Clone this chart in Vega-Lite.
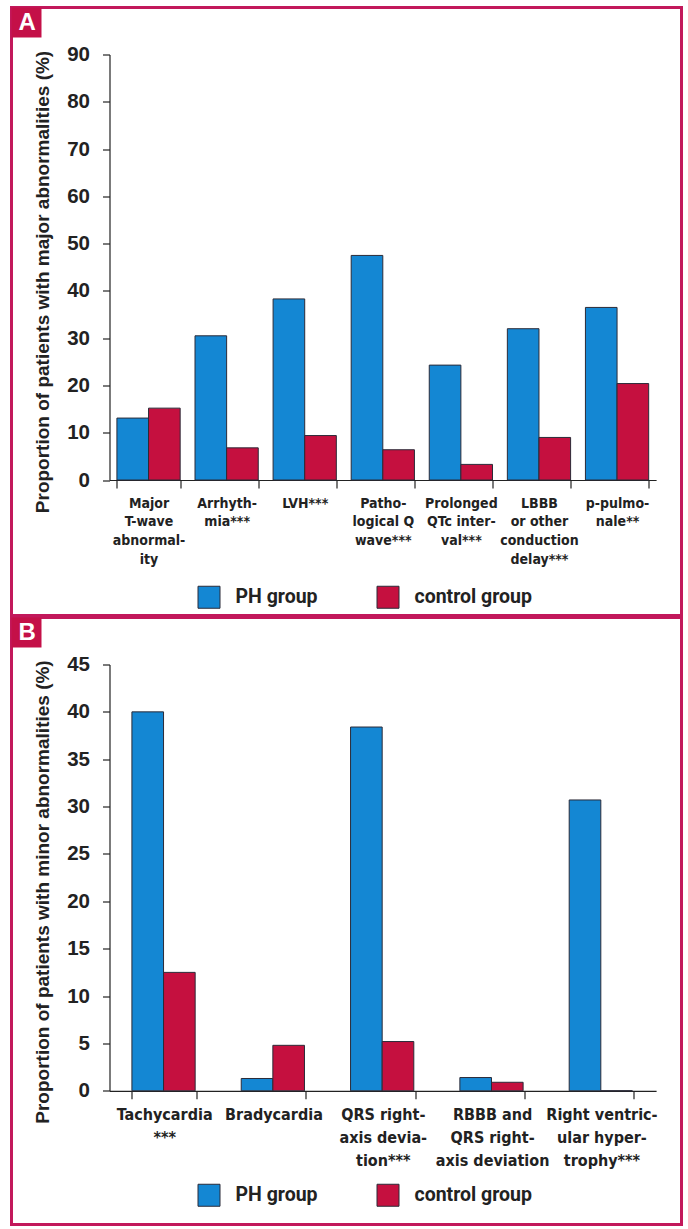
{
  "$schema": "https://vega.github.io/schema/vega-lite/v6.json",
  "padding": {"left": 9.5, "top": 5.5, "right": 0, "bottom": 0},
  "spacing": -3,
  "background": "white",
  "resolve": {
    "scale": {"color": "independent", "opacity": "independent"},
    "legend": {"color": "independent", "opacity": "independent"}
  },
  "config": {
    "view": {"stroke": "#c2185b", "strokeWidth": 3},
    "axis": {"domainColor": "#222", "tickColor": "#222", "labelColor": "#222", "titleColor": "#222", "grid": false, "domainWidth": 1.2, "tickWidth": 1.2}
  },
  "datasets": {
    "major": [
      {"abnormality": "Major|T-wave|abnormal-|ity", "group": "PH group", "percent": 13.1},
      {"abnormality": "Major|T-wave|abnormal-|ity", "group": "control group", "percent": 15.2},
      {"abnormality": "Arrhyth-|mia***", "group": "PH group", "percent": 30.5},
      {"abnormality": "Arrhyth-|mia***", "group": "control group", "percent": 6.8},
      {"abnormality": "LVH***", "group": "PH group", "percent": 38.3},
      {"abnormality": "LVH***", "group": "control group", "percent": 9.4},
      {"abnormality": "Patho-|logical Q|wave***", "group": "PH group", "percent": 47.5},
      {"abnormality": "Patho-|logical Q|wave***", "group": "control group", "percent": 6.4},
      {"abnormality": "Prolonged|QTc inter-|val***", "group": "PH group", "percent": 24.3},
      {"abnormality": "Prolonged|QTc inter-|val***", "group": "control group", "percent": 3.3},
      {"abnormality": "LBBB|or other|conduction|delay***", "group": "PH group", "percent": 32.0},
      {"abnormality": "LBBB|or other|conduction|delay***", "group": "control group", "percent": 9.0},
      {"abnormality": "p-pulmo-|nale**", "group": "PH group", "percent": 36.5},
      {"abnormality": "p-pulmo-|nale**", "group": "control group", "percent": 20.4}
    ],
    "minor": [
      {"abnormality": "Tachycardia|***", "group": "PH group", "percent": 40.0},
      {"abnormality": "Tachycardia|***", "group": "control group", "percent": 12.5},
      {"abnormality": "Bradycardia", "group": "PH group", "percent": 1.3},
      {"abnormality": "Bradycardia", "group": "control group", "percent": 4.8},
      {"abnormality": "QRS right-|axis devia-|tion***", "group": "PH group", "percent": 38.4},
      {"abnormality": "QRS right-|axis devia-|tion***", "group": "control group", "percent": 5.2},
      {"abnormality": "RBBB and|QRS right-|axis deviation", "group": "PH group", "percent": 1.4},
      {"abnormality": "RBBB and|QRS right-|axis deviation", "group": "control group", "percent": 0.9},
      {"abnormality": "Right ventric-|ular hyper-|trophy***", "group": "PH group", "percent": 30.7},
      {"abnormality": "Right ventric-|ular hyper-|trophy***", "group": "control group", "percent": 0}
    ]
  },
  "vconcat": [
    {
      "width": 670,
      "height": 608,
      "data": {"name": "major"},
      "mark": {"type": "bar", "stroke": "#2b2b38", "strokeWidth": 1},
      "encoding": {
        "x": {
          "field": "abnormality", "type": "nominal", "sort": null,
          "scale": {"range": [98, 644.6], "paddingInner": 0.19, "paddingOuter": 0.095},
          "axis": {"title": null, "orient": "bottom", "offset": -135.5, "labelExpr": "split(datum.label, '|')", "labelAngle": 0, "tickBand": "extent", "tickSize": 8, "labelPadding": 8, "labelFont": "DejaVu Sans Condensed, sans-serif", "labelFontSize": 14, "labelFontWeight": "bold", "labelLineHeight": 18.7, "labelLimit": 200, "labelBaseline": "top", "labelAlign": "center"}
        },
        "xOffset": {"field": "group", "type": "nominal", "sort": ["PH group", "control group"]},
        "y": {
          "field": "percent", "type": "quantitative",
          "scale": {"domain": [0, 90], "range": [472.5, 47], "nice": false, "zero": true},
          "axis": {"title": "Proportion of patients with major abnormalities (%)", "orient": "left", "offset": -98, "values": [0, 10, 20, 30, 40, 50, 60, 70, 80, 90], "tickSize": 7, "labelPadding": 13, "labelFont": "Liberation Sans", "labelFontSize": 20.5, "labelFontWeight": "bold", "titleFont": "Liberation Sans", "titleFontSize": 19, "titleFontWeight": "bold", "titleX": -61, "titleY": 274, "titleAngle": -90, "titleBaseline": "alphabetic", "titleAlign": "center"}
        },
        "color": {
          "field": "group", "type": "nominal",
          "scale": {"domain": ["PH group", "control group"], "range": ["#1487d3", "#c5103f"]},
          "legend": {"orient": "none", "legendX": 186, "legendY": 578, "direction": "horizontal", "title": null, "symbolType": "square", "symbolSize": 484, "symbolStrokeColor": "#2b2b38", "symbolStrokeWidth": 1, "labelFont": "Roboto", "labelFontSize": 19.5, "labelFontWeight": "bold", "labelOffset": 15, "columnPadding": 56, "padding": 0, "labelColor": "#222"}
        },
        "opacity": {
          "datum": "A", "type": "ordinal",
          "scale": {"range": [1, 1]},
          "legend": {"orient": "top-left", "offset": 0, "title": null, "padding": 0, "symbolType": "square", "symbolSize": 900, "symbolOffset": 0, "symbolStrokeWidth": 0, "symbolFillColor": "#c41048", "labelColor": "white", "labelFont": "Liberation Sans", "labelFontSize": 24, "labelFontWeight": "bold", "labelOffset": -23, "labelLimit": 40, "labelAlign": "left"}
        }
      }
    },
    {
      "width": 670,
      "height": 607,
      "data": {"name": "minor"},
      "mark": {"type": "bar", "stroke": "#2b2b38", "strokeWidth": 1},
      "encoding": {
        "x": {
          "field": "abnormality", "type": "nominal", "sort": null,
          "scale": {"range": [98, 644.6], "paddingInner": 0.41, "paddingOuter": 0.205},
          "axis": {"title": null, "orient": "bottom", "offset": -133.7, "labelExpr": "split(datum.label, '|')", "labelAngle": 0, "tickBand": "extent", "tickSize": 8, "labelPadding": 8, "labelFont": "DejaVu Sans Condensed, sans-serif", "labelFontSize": 16, "labelFontWeight": "bold", "labelLineHeight": 23, "labelLimit": 200, "labelBaseline": "top", "labelAlign": "center"}
        },
        "xOffset": {"field": "group", "type": "nominal", "sort": ["PH group", "control group"]},
        "y": {
          "field": "percent", "type": "quantitative",
          "scale": {"domain": [0, 45], "range": [473.3, 47], "nice": false, "zero": true},
          "axis": {"title": "Proportion of patients with minor abnormalities (%)", "orient": "left", "offset": -98, "values": [0, 5, 10, 15, 20, 25, 30, 35, 40, 45], "tickSize": 7, "labelPadding": 13, "labelFont": "Liberation Sans", "labelFontSize": 20.5, "labelFontWeight": "bold", "titleFont": "Liberation Sans", "titleFontSize": 19, "titleFontWeight": "bold", "titleX": -61, "titleY": 274, "titleAngle": -90, "titleBaseline": "alphabetic", "titleAlign": "center"}
        },
        "color": {
          "field": "group", "type": "nominal",
          "scale": {"domain": ["PH group", "control group"], "range": ["#1487d3", "#c5103f"]},
          "legend": {"orient": "none", "legendX": 186, "legendY": 566, "direction": "horizontal", "title": null, "symbolType": "square", "symbolSize": 484, "symbolStrokeColor": "#2b2b38", "symbolStrokeWidth": 1, "labelFont": "Roboto", "labelFontSize": 19.5, "labelFontWeight": "bold", "labelOffset": 15, "columnPadding": 56, "padding": 0, "labelColor": "#222"}
        },
        "opacity": {
          "datum": "B", "type": "ordinal",
          "scale": {"range": [1, 1]},
          "legend": {"orient": "top-left", "offset": 0, "title": null, "padding": 0, "symbolType": "square", "symbolSize": 900, "symbolOffset": 0, "symbolStrokeWidth": 0, "symbolFillColor": "#c41048", "labelColor": "white", "labelFont": "Liberation Sans", "labelFontSize": 24, "labelFontWeight": "bold", "labelOffset": -23, "labelLimit": 40, "labelAlign": "left"}
        }
      }
    }
  ]
}
